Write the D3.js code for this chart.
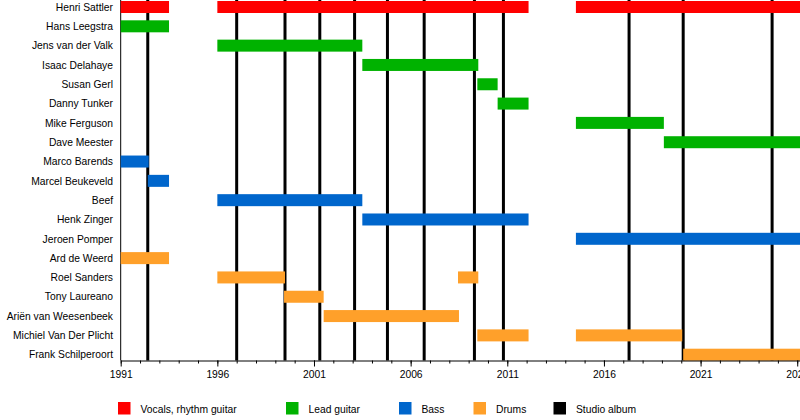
<!DOCTYPE html>
<html>
<head>
  <meta charset="utf-8">
  <title>God Dethroned members</title>
  <script src="https://cdn.jsdelivr.net/npm/d3@7/dist/d3.min.js"></script>
  <style>
    body { margin: 0; background: #fff; }
    text { font-family: "Liberation Sans", Arial, sans-serif; font-size: 10.3px; fill: #000; }
  </style>
</head>
<body>
<svg id="chart" width="800" height="420"></svg>
<script>
  // band members, top to bottom
  const members = [
    "Henri Sattler", "Hans Leegstra", "Jens van der Valk", "Isaac Delahaye",
    "Susan Gerl", "Danny Tunker", "Mike Ferguson", "Dave Meester",
    "Marco Barends", "Marcel Beukeveld", "Beef", "Henk Zinger", "Jeroen Pomper",
    "Ard de Weerd", "Roel Sanders", "Tony Laureano", "Ariën van Weesenbeek",
    "Michiel Van Der Plicht", "Frank Schilperoort"
  ];
  const roles = ["Vocals, rhythm guitar", "Lead guitar", "Bass", "Drums"];
  const chartEnd = 2026.2;

  // [member, role, from, to]
  const stints = [
    ["Henri Sattler", "Vocals, rhythm guitar", 1991, 1993.5],
    ["Henri Sattler", "Vocals, rhythm guitar", 1996, 2012.1],
    ["Henri Sattler", "Vocals, rhythm guitar", 2014.55, chartEnd],
    ["Hans Leegstra", "Lead guitar", 1991, 1993.5],
    ["Jens van der Valk", "Lead guitar", 1996, 2003.5],
    ["Isaac Delahaye", "Lead guitar", 2003.5, 2009.5],
    ["Susan Gerl", "Lead guitar", 2009.45, 2010.5],
    ["Danny Tunker", "Lead guitar", 2010.5, 2012.1],
    ["Mike Ferguson", "Lead guitar", 2014.55, 2019.1],
    ["Dave Meester", "Lead guitar", 2019.1, chartEnd],
    ["Marco Barends", "Bass", 1991, 1992.45],
    ["Marcel Beukeveld", "Bass", 1992.4, 1993.5],
    ["Beef", "Bass", 1996, 2003.5],
    ["Henk Zinger", "Bass", 2003.5, 2012.1],
    ["Jeroen Pomper", "Bass", 2014.55, chartEnd],
    ["Ard de Weerd", "Drums", 1991, 1993.5],
    ["Roel Sanders", "Drums", 1996, 1999.5],
    ["Roel Sanders", "Drums", 2008.45, 2009.5],
    ["Tony Laureano", "Drums", 1999.45, 2001.5],
    ["Ariën van Weesenbeek", "Drums", 2001.5, 2008.5],
    ["Michiel Van Der Plicht", "Drums", 2009.45, 2012.1],
    ["Michiel Van Der Plicht", "Drums", 2014.55, 2020.05],
    ["Frank Schilperoort", "Drums", 2020.1, chartEnd]
  ];

  // studio album release dates
  const albums = [1992.4, 1997.0, 1999.5, 2001.3, 2003.1, 2004.8, 2006.7, 2009.3, 2010.8, 2017.3, 2020.1, 2024.7];

  const majorTicks = d3.range(1991, 2027, 5);
  const minorTicks = d3.range(1991, 2027, 1);

  const svg = d3.select('#chart');

  const x = d3.scaleLinear().domain([1991, chartEnd]).range([120.7, 801.1]);
  const y = d3.scalePoint().domain(members).range([7, 354.7]);
  const color = d3.scaleOrdinal()
    .domain(roles.concat(["Studio album"]))
    .range(["#ff0000", "#00b200", "#0066cc", "#ffa02a", "#000000"]);
  const axisY = 360.5;
  const barH = 12;

  // left frame line
  svg.append('line')
    .attr('x1', x(1991)).attr('x2', x(1991))
    .attr('y1', 0).attr('y2', axisY)
    .attr('stroke', '#000').attr('stroke-width', 1);

  // album lines
  svg.append('g').selectAll('line')
    .data(albums)
    .join('line')
    .attr('x1', d => x(d)).attr('x2', d => x(d))
    .attr('y1', 0).attr('y2', axisY)
    .attr('stroke', '#000')
    .attr('stroke-width', 3);

  // bars
  svg.append('g').selectAll('rect')
    .data(stints)
    .join('rect')
    .attr('x', d => x(d[2]))
    .attr('width', d => x(d[3]) - x(d[2]))
    .attr('y', d => y(d[0]) - barH / 2)
    .attr('height', barH)
    .attr('fill', d => color(d[1]));

  // member names
  svg.append('g').selectAll('text')
    .data(members)
    .join('text')
    .attr('x', 113)
    .attr('y', d => y(d))
    .attr('dy', '0.36em')
    .attr('text-anchor', 'end')
    .text(d => d);

  // axis: minor ticks then major ticks with labels
  const minorAxis = d3.axisBottom(x).tickValues(minorTicks).tickSize(3).tickSizeOuter(0).tickFormat('');
  const majorAxis = d3.axisBottom(x).tickValues(majorTicks).tickSize(6).tickSizeOuter(0).tickFormat(d3.format('d'));

  svg.append('g').attr('transform', `translate(0,${axisY})`).call(minorAxis)
    .call(g => g.select('.domain').remove());
  const gx = svg.append('g').attr('transform', `translate(0,${axisY})`).call(majorAxis);
  gx.select('.domain').attr('stroke', '#000');
  gx.selectAll('text')
    .attr('font-family', '"Liberation Sans", Arial, sans-serif')
    .attr('font-size', 10.3)
    .attr('fill', '#000')
    .attr('y', 10);

  // legend
  const legendItems = roles.concat(["Studio album"]);
  const legendX = [118, 286, 399, 473.5, 553.5];
  const lg = svg.append('g').selectAll('g')
    .data(legendItems)
    .join('g')
    .attr('transform', (d, i) => `translate(${legendX[i]},402)`);
  lg.append('rect')
    .attr('width', 12.5).attr('height', 12.5)
    .attr('fill', d => color(d));
  lg.append('text')
    .attr('x', 22.5)
    .attr('y', 11)
    .text(d => d);
</script>
</body>
</html>
